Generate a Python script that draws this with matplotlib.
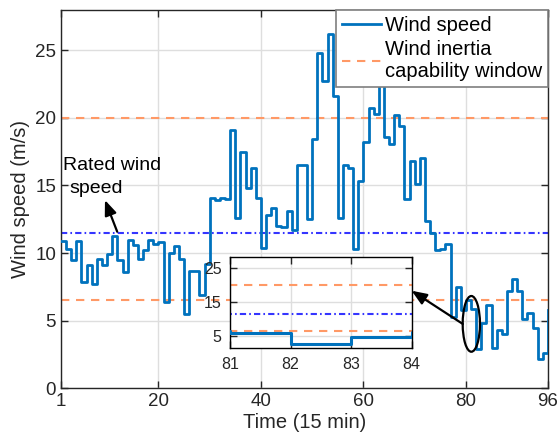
import numpy as np
import matplotlib
matplotlib.use("Agg")
import matplotlib.pyplot as plt
from matplotlib.patches import Ellipse

plt.rcParams['font.family'] = ['Liberation Sans', 'DejaVu Sans']

# ---- data ----
time_steps = list(range(1, 97))
wind_speed = [
    10.9, 10.3, 9.5, 10.9, 7.9, 9.1, 7.7, 9.6, 9.1, 9.9,
    11.3, 9.5, 8.6, 11.0, 10.6, 9.6, 10.2, 11.0, 10.7, 10.8,
    6.4, 10.0, 10.5, 9.6, 5.5, 8.7, 8.7, 6.9, 9.2, 14.1,
    13.9, 14.1, 14.0, 19.1, 12.6, 17.5, 14.8, 16.3, 14.1, 10.4,
    12.8, 13.3, 12.0, 11.9, 13.1, 11.7, 16.5, 16.5, 12.5, 18.4,
    24.8, 22.7, 26.2, 21.6, 12.6, 16.5, 16.3, 10.3, 15.3, 18.2,
    20.7, 20.3, 22.8, 18.6, 18.1, 20.2, 19.4, 14.0, 16.8, 15.1,
    17.0, 12.4, 11.5, 10.2, 10.3, 10.7, 5.3, 7.5, 5.8, 6.5,
    5.9, 2.9, 4.8, 6.2, 3.0, 4.3, 4.0, 7.2, 8.1, 7.2,
    5.1, 5.6, 4.5, 2.2, 2.6, 5.8,
]
rated_speed = 11.5
window_low = 6.5
window_high = 20.0
x_ticks = [1, 20, 40, 60, 80, 96]
y_ticks = [0, 5, 10, 15, 20, 25]
inset_x_ticks = [81, 82, 83, 84]
inset_y_ticks = [5, 15, 25]
legend_labels = ['Wind speed', 'Wind inertia\ncapability window']

# ---- style ----
BLUE = '#0072BD'
ORANGE = '#FF9966'
DASHDOT = '#3535FF'
FRAME = '#262626'
GRID = '#DEDEDE'
dash = (0, (4, 3.2))
dashdot = (0, (3, 1.5, 0.8, 1.5))
ARROW = '-|>,head_length=0.5,head_width=0.2'

fig = plt.figure(figsize=(5.58, 4.45), dpi=100)
ax = fig.add_axes([0.1093, 0.1272, 0.982 - 0.1093, 0.9784 - 0.1272])

def style_axes(a, fs):
    for s in a.spines.values():
        s.set_color(FRAME)
        s.set_linewidth(1.0)
    a.tick_params(direction='in', top=True, right=True, labelsize=fs,
                  colors=FRAME, length=5, width=1.0)
    a.grid(True, color=GRID, linewidth=1.0)
    a.set_axisbelow(True)

style_axes(ax, 13.5)

ln, = ax.step(time_steps, wind_speed, where='post', color=BLUE, lw=2, zorder=3)
lo, = ax.plot([x_ticks[0], x_ticks[-1]], [window_high] * 2, color=ORANGE, lw=1.5, ls=dash, zorder=2)
ax.plot([x_ticks[0], x_ticks[-1]], [window_low] * 2, color=ORANGE, lw=1.5, ls=dash, zorder=2)
ax.plot([x_ticks[0], x_ticks[-1]], [rated_speed] * 2, color=DASHDOT, lw=1.5, ls=dashdot, zorder=2)

ax.set_xlim(1, 96)
ax.set_ylim(0, 28)
ax.set_xticks(x_ticks)
ax.set_yticks(y_ticks)
ax.set_xlabel('Time (15 min)', fontsize=14.5, color=FRAME, labelpad=2)
ax.set_ylabel('Wind speed (m/s)', fontsize=14.5, color=FRAME, labelpad=4)

leg = ax.legend([ln, lo], legend_labels, loc='upper right', fontsize=14.5,
                frameon=True, fancybox=False, framealpha=1, edgecolor='#7F7F7F',
                borderaxespad=0, handlelength=1.9, handletextpad=0.2,
                borderpad=0.3, labelspacing=0.25)
leg.get_frame().set_linewidth(1.2)
leg.set_zorder(10)

# annotation for rated wind speed
ax.text(1.45, 16.14, 'Rated wind', fontsize=14, color='k', ha='left', va='baseline')
ax.text(2.56, 14.42, 'speed', fontsize=14, color='k', ha='left', va='baseline')
ax.annotate('', xy=(9.58, 13.92), xytext=(11.97, 11.58),
            arrowprops=dict(arrowstyle=ARROW, color='k', lw=1.6,
                            mutation_scale=18, shrinkA=0, shrinkB=0), zorder=6)

# ellipse + arrow to inset
ax.add_patch(Ellipse((81.05, 4.77), 3.37, 4.12, fill=False, edgecolor='k', lw=1.6, zorder=6))
ax.annotate('', xy=(69.4, 7.22), xytext=(79.4, 4.76),
            arrowprops=dict(arrowstyle=ARROW, color='k', lw=1.6,
                            mutation_scale=18, shrinkA=0, shrinkB=0), zorder=12)

# inset
ins = fig.add_axes([0.4122, 0.2173, 0.7378 - 0.4122, 0.4231 - 0.2173])
ins.set_zorder(8)
style_axes(ins, 11.5)
ins.step(time_steps, wind_speed, where='post', color=BLUE, lw=2.2, zorder=3)
ins.plot([80, 85], [window_high] * 2, color=ORANGE, lw=1.5, ls=dash, zorder=2)
ins.plot([80, 85], [window_low] * 2, color=ORANGE, lw=1.5, ls=dash, zorder=2)
ins.plot([80, 85], [rated_speed] * 2, color=DASHDOT, lw=1.5, ls=dashdot, zorder=2)
ins.set_xlim(81, 84)
ins.set_ylim(1.5, 28.4)
ins.set_xticks(inset_x_ticks)
ins.set_yticks(inset_y_ticks)
ins.tick_params(pad=6)
for s in ins.spines.values():
    s.set_color('k')

fig.savefig('out.png', dpi=100)
